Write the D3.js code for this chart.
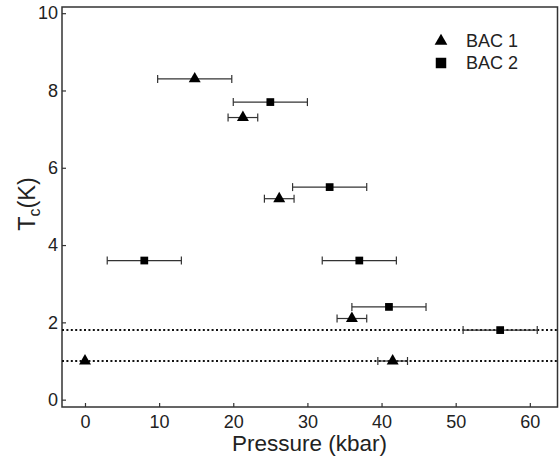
<!DOCTYPE html>
<html>
<head>
<meta charset="utf-8">
<script src="https://cdn.jsdelivr.net/npm/d3@7/dist/d3.min.js"></script>
<style>
  html, body { margin: 0; padding: 0; background: #fff; }
  svg { display: block; font-family: "Liberation Sans", Arial, Helvetica, sans-serif; }
</style>
</head>
<body>
<svg id="chart" width="559" height="460"></svg>
<script>
// ---- data ----
const bac1Pressure = [0, 14.8, 21.3, 26.2, 36, 41.5];
const bac1Tc       = [1.0, 8.3, 7.3, 5.2, 2.1, 1.0];
const bac1Err      = [0, 5, 2, 2, 2, 2];

const bac2Pressure = [8, 25, 33, 37, 41, 56];
const bac2Tc       = [3.6, 7.7, 5.5, 3.6, 2.4, 1.8];
const bac2Err      = [5, 5, 5, 5, 5, 5];

const dottedLevels = [1.8, 1.0];
const xTicks = [0, 10, 20, 30, 40, 50, 60];
const yTicks = [0, 2, 4, 6, 8, 10];
const seriesNames = ["BAC 1", "BAC 2"];

// ---- layout ----
const W = 559, H = 460;
const margin = {left: 62, top: 7, right: 1, bottom: 53};
const svg = d3.select("#chart");
const x = d3.scaleLinear().domain([-3.1, 63.8]).range([margin.left, W - margin.right]);
const y = d3.scaleLinear().domain([-0.19, 10.16]).range([H - margin.bottom, margin.top]);
const ink = "#222";

// axes
const xAxis = d3.axisBottom(x).tickValues(xTicks).tickSizeInner(-4).tickSizeOuter(0).tickPadding(8);
const yAxis = d3.axisLeft(y).tickValues(yTicks).tickSizeInner(-4).tickSizeOuter(0).tickPadding(4);

const gx = svg.append("g").attr("transform", `translate(0,${H - margin.bottom})`).call(xAxis);
const gy = svg.append("g").attr("transform", `translate(${margin.left},0)`).call(yAxis);
[gx, gy].forEach(g => {
  g.select(".domain").remove();
  g.selectAll(".tick line").attr("stroke", "#333").attr("stroke-width", 1.2);
  g.selectAll(".tick text").attr("fill", ink).style("font-size", "18px")
    .style("font-family", '"Liberation Sans", Arial, sans-serif');
});

// frame
svg.append("rect")
  .attr("x", x.range()[0]).attr("y", y.range()[1])
  .attr("width", x.range()[1] - x.range()[0] - 0.5)
  .attr("height", y.range()[0] - y.range()[1])
  .attr("fill", "none").attr("stroke", "#333").attr("stroke-width", 1.5);

// dotted lines
svg.append("g").selectAll("line").data(dottedLevels).join("line")
  .attr("x1", x.range()[0]).attr("x2", x.range()[1])
  .attr("y1", d => y(d)).attr("y2", d => y(d))
  .attr("stroke", "#111").attr("stroke-width", 2).attr("stroke-dasharray", "2,2.4");

// error bars
function errorBars(P, T, E) {
  const data = P.map((p, i) => ({p, t: T[i], e: E[i]})).filter(d => d.e > 0);
  const g = svg.append("g").attr("stroke", "#333").attr("stroke-width", 1.2);
  g.selectAll(".bar").data(data).join("line")
    .attr("x1", d => x(d.p - d.e)).attr("x2", d => x(d.p + d.e))
    .attr("y1", d => y(d.t)).attr("y2", d => y(d.t));
  g.selectAll(".capL").data(data).join("line")
    .attr("x1", d => x(d.p - d.e)).attr("x2", d => x(d.p - d.e))
    .attr("y1", d => y(d.t) - 4).attr("y2", d => y(d.t) + 4);
  g.selectAll(".capR").data(data).join("line")
    .attr("x1", d => x(d.p + d.e)).attr("x2", d => x(d.p + d.e))
    .attr("y1", d => y(d.t) - 4).attr("y2", d => y(d.t) + 4);
}
errorBars(bac1Pressure, bac1Tc, bac1Err);
errorBars(bac2Pressure, bac2Tc, bac2Err);

// markers
const tri = d3.symbol().type(d3.symbolTriangle).size(62);
const sq = d3.symbol().type(d3.symbolSquare).size(60);
svg.append("g").selectAll("path").data(bac1Pressure.map((p, i) => [p, bac1Tc[i]])).join("path")
  .attr("d", tri).attr("fill", "#000")
  .attr("transform", d => `translate(${x(d[0])},${y(d[1])})`);
svg.append("g").selectAll("path").data(bac2Pressure.map((p, i) => [p, bac2Tc[i]])).join("path")
  .attr("d", sq).attr("fill", "#000")
  .attr("transform", d => `translate(${x(d[0])},${y(d[1])})`);

// legend
const legend = svg.append("g");
const legSym = [d3.symbol().type(d3.symbolTriangle).size(70), d3.symbol().type(d3.symbolSquare).size(110)];
seriesNames.forEach((name, i) => {
  const cy = 41 + i * 22;
  legend.append("path").attr("d", legSym[i]()).attr("fill", "#000")
    .attr("transform", `translate(441,${cy})`);
  legend.append("text").attr("x", 466).attr("y", cy + 5.5)
    .attr("fill", ink).style("font-size", "18px").text(name);
});

// axis titles
svg.append("text")
  .attr("x", (x.range()[0] + x.range()[1]) / 2 - 0.5).attr("y", 451)
  .attr("text-anchor", "middle").attr("fill", ink).style("font-size", "22.5px")
  .text("Pressure (kbar)");

const yt = svg.append("text")
  .attr("transform", "translate(35,204) rotate(-90)")
  .attr("text-anchor", "middle").attr("fill", ink).style("font-size", "23.5px");
yt.append("tspan").text("T");
yt.append("tspan").attr("dy", 5).style("font-size", "16px").text("c");
yt.append("tspan").attr("dy", -5).text("(K)");
</script>
</body>
</html>
